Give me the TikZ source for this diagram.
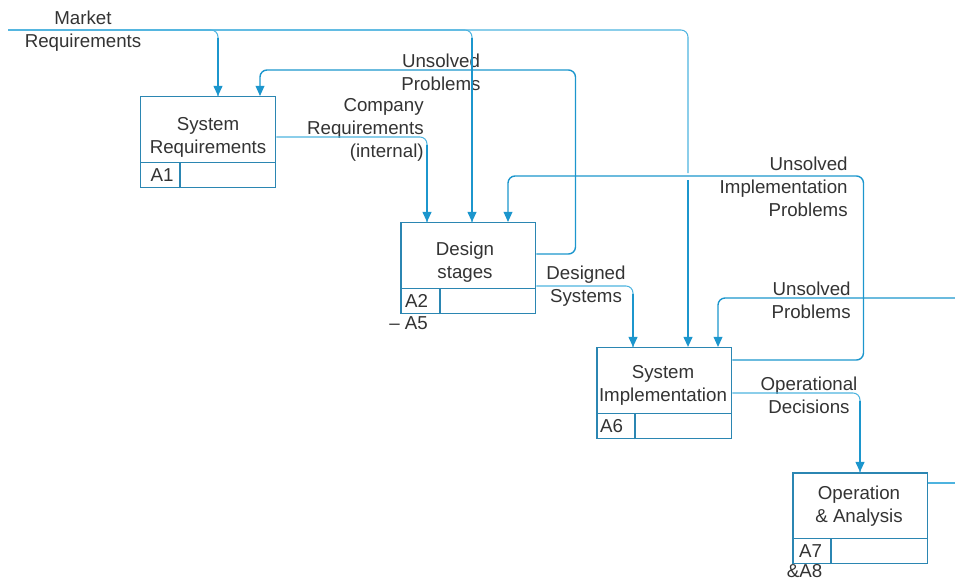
\documentclass[tikz,border=0pt]{standalone}
\usepackage{fontspec}
\setmainfont{Liberation Sans}
\usetikzlibrary{arrows.meta,calc}

\definecolor{boxblue}{HTML}{2B86B2}
\definecolor{lineblue}{HTML}{4DB3DF}
\definecolor{arrowblue}{HTML}{1C96CD}
\definecolor{txtgray}{HTML}{333333}

\begin{document}
\begin{tikzpicture}
            [x=0.02cm, y=-0.02cm, >={Triangle[width=5pt,length=5.8pt]},
             funcbox/.style={draw=boxblue, line width=0.85pt, minimum width=2.7cm, minimum height=1.82cm, anchor=north west, inner sep=0pt},
             divider/.style={draw=boxblue, line width=0.85pt},
             boxtext/.style={align=center, text=txtgray, inner sep=0pt, font=\fontsize{10.65}{13.1}\selectfont},
             flowline/.style={draw=lineblue, line width=0.6pt, rounded corners=4pt},
             flowarrow/.style={draw=arrowblue, line width=1.1pt, ->},
             backarrow/.style={draw=arrowblue, line width=0.8pt, rounded corners=4pt, ->}]
            \useasboundingbox (0,0) rectangle (955,581);

            % activity boxes
            \node[funcbox] (sysreq) at (140,96) {};
            \node[funcbox] (design) at (400,222) {};
            \node[funcbox] (sysimp) at (596,347) {};
            \node[funcbox] (operan) at (792,472) {};
            \draw[divider] ($(sysreq.south west)+(0,-26)$) -- ($(sysreq.south east)+(0,-26)$) ($(sysreq.south west)+(40,0)$) -- ++(0,-26);
            \draw[divider] ($(design.south west)+(0,-26)$) -- ($(design.south east)+(0,-26)$) ($(design.south west)+(40,0)$) -- ++(0,-26);
            \draw[divider] ($(sysimp.south west)+(0,-26)$) -- ($(sysimp.south east)+(0,-26)$) ($(sysimp.south west)+(39,0)$) -- ++(0,-26);
            \draw[divider] ($(operan.south west)+(0,-26)$) -- ($(operan.south east)+(0,-26)$) ($(operan.south west)+(39,0)$) -- ++(0,-26);

            \node[boxtext] (sysreqt) at (208,137) {System\\Requirements};
            \node[boxtext] (designt) at (465,262) {Design\\stages};
            \node[boxtext] (sysimpt) at (663,385) {System\\Implementation};
            \node[boxtext] (operant) at (859,506) {Operation\\\& Analysis};
            \node[boxtext] (a1) at (162,175.5) {A1};
            \node[boxtext] (a2) at (416.5,300.5) {A2};
            \node[boxtext] (a6) at (611.5,426.5) {A6};
            \node[boxtext] (a7) at (810.5,551) {A7};
            \node[boxtext] (a5) at (408.5,323.5) {– A5};
            \node[boxtext] (a8) at (804.5,571.5) {\&A8};

            % arrow labels
            \node[boxtext] (mktl) at (83,31) {Market\\Requirements};
            \node[boxtext] (unsl) at (441,72) {Unsolved\\Problems};
            \node[boxtext, align=right, anchor=east] (compl) at (424,130) {Company\\Requirements\\(internal)};
            \node[boxtext, align=right, anchor=east] (unsil) at (848,186.5) {Unsolved\\Implementation\\Problems};
            \node[boxtext, align=right, anchor=east] (unsrl) at (851,300) {Unsolved\\Problems};
            \node[boxtext] (dsgl) at (586,286) {Designed\\Systems};
            \node[boxtext] (opdl) at (809,395) {Operational\\Decisions};

            % free ends
            \coordinate (mkt) at (8,30);
            \coordinate (unsin) at (955,298);
            \coordinate (opout) at (955,483);

            % market requirements
            \draw[flowline] (mkt) -| ($(sysreq.north west)+(78,0)$);
            \draw[flowline] (mkt) -| ($(design.north west)+(72,0)$);
            \draw[flowline] (mkt) -| ($(sysimp.north west)+(92,-174)$);
            \draw[flowarrow] ($(sysreq.north west)+(78,-58)$) -- ($(sysreq.north west)+(78,0)$);
            \draw[flowarrow] ($(design.north west)+(72,-184)$) -- ($(design.north west)+(72,0)$);
            \draw[flowarrow] ($(sysimp.north west)+(92,-167)$) -- ($(sysimp.north west)+(92,0)$);

            % company requirements
            \draw[flowline] ($(sysreq.north east)+(0,41)$) -| ($(design.north west)+(27,0)$);
            \draw[flowarrow] ($(design.north west)+(27,-77)$) -- ($(design.north west)+(27,0)$);

            % designed systems
            \draw[flowline] ($(design.north east)+(0,64)$) -| ($(sysimp.north west)+(37,0)$);
            \draw[flowarrow] ($(sysimp.north west)+(37,-53)$) -- ($(sysimp.north west)+(37,0)$);

            % operational decisions
            \draw[flowline] ($(sysimp.north east)+(0,46)$) -| ($(operan.north west)+(68,0)$);
            \draw[flowarrow] ($(operan.north west)+(68,-71)$) -- ($(operan.north west)+(68,0)$);
            \draw[flowline] ($(operan.north east)+(0,11)$) -- (opout);

            % feedback
            \draw[backarrow] ($(design.north east)+(0,32)$) -- ++(39,0) |- ($(sysreq.north west)+(120,-26)$) -- ($(sysreq.north west)+(120,0)$);
            \draw[backarrow] ($(sysimp.north east)+(0,13)$) -- ++(131,0) |- ($(design.north west)+(108,-46)$) -- ($(design.north west)+(108,0)$);
            \draw[backarrow] (unsin) -| ($(sysimp.north west)+(122,0)$);
\end{tikzpicture}
\end{document}
